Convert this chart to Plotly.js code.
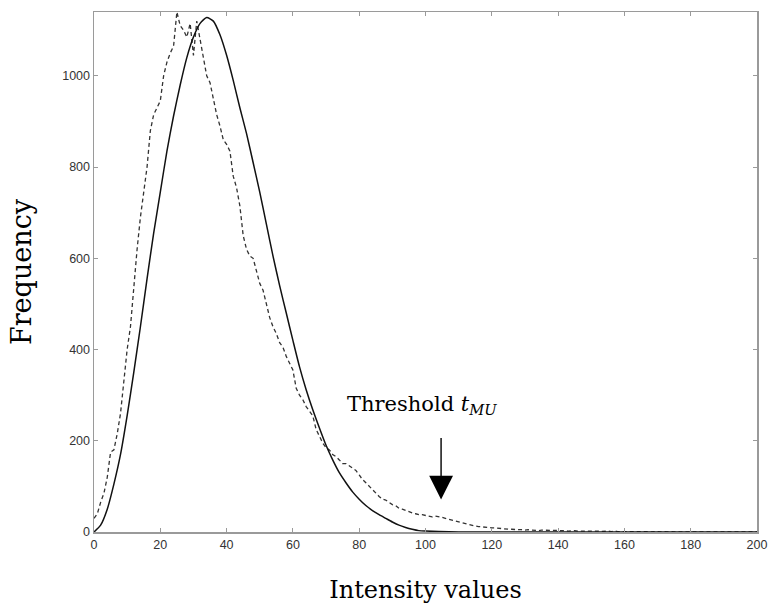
<!DOCTYPE html>
<html>
<head>
<meta charset="utf-8">
<script src="https://cdn.plot.ly/plotly-3.0.1.min.js"></script>
<style>html,body{margin:0;padding:0;background:#fff;}#chart{width:768px;height:611px;}</style>
</head>
<body>
<div id="chart"></div>
<script>
// Fitted model curve (solid), sampled every 2 intensity units
var fitX = [0,2,4,6,8,10,12,14,16,18,20,22,24,26,28,30,32,34,36,38,40,42,44,46,48,50,52,54,56,58,60,62,64,66,68,70,72,74,76,78,80,82,84,86,88,90,92,94,96,98,100,104,110,120,140,160,180,200];
var fitY = [0,15,50,105,170,255,350,450,555,655,745,835,912,980,1040,1085,1115,1128,1120,1090,1045,990,930,874,810,745,675,605,540,480,420,362,312,268,228,190,158,130,108,88,72,58,47,38,30,22,15,10,6,3,2,1,0,0,0,0,0,0];

// Observed histogram (dashed), one value per intensity 0..200
var histY = [
 30,40,65,85,120,175,180,215,260,330,
 400,450,540,620,690,740,800,880,915,930,
 945,1000,1030,1050,1065,1140,1110,1100,1085,1115,
 1045,1120,1075,1040,1000,985,950,915,890,860,
 850,835,780,755,715,650,620,605,600,575,
 545,530,500,470,450,435,415,405,385,370,
 355,315,300,290,275,265,255,225,210,195,
 185,180,170,165,158,150,150,145,140,135,
 125,115,108,100,92,85,78,72,70,65,
 60,58,52,50,47,45,42,40,38,38,
 36,35,33,35,34,32,30,28,26,24,
 22,20,18,16,15,13,12,11,10,10,
 9,9,8,7,7,6,6,5,5,5,
 4,5,4,4,3,4,4,3,3,4,
 3,3,3,2,3,3,2,2,3,2,
 2,2,2,1,2,2,1,2,1,1,
 2,1,1,1,1,1,1,1,0,1,
 1,0,1,0,1,0,0,1,0,0,
 0,1,0,0,0,0,0,0,0,0,
 0,0,0,0,0,0,0,0,0,0,
 0
];
var histX = histY.map(function(_, i){ return i; });

var xTicks = [0,20,40,60,80,100,120,140,160,180,200];
var yTicks = [0,200,400,600,800,1000];

var traces = [
  {x: histX, y: histY, type: 'scatter', mode: 'lines',
   line: {color: '#333', width: 1.3, dash: '4px,3px'}, hoverinfo: 'none'},
  {x: fitX, y: fitY, type: 'scatter', mode: 'lines',
   line: {color: '#111', width: 1.5, shape: 'spline', smoothing: 0.6}, hoverinfo: 'none'}
];

var axisCommon = {
  showgrid: false, zeroline: false, showline: true, mirror: 'ticks',
  linecolor: '#9a9a9a', linewidth: 1.5,
  ticks: 'inside', ticklen: 4, tickcolor: '#9a9a9a', tickwidth: 1,
  tickfont: {family: 'Liberation Sans, Arial, sans-serif', size: 12.5, color: '#333'}
};

var layout = {
  width: 768, height: 611,
  margin: {l: 94, r: 11, t: 12, b: 79},
  paper_bgcolor: '#fff', plot_bgcolor: '#fff',
  showlegend: false,
  xaxis: Object.assign({}, axisCommon, {
    range: [0, 200], tickmode: 'array', tickvals: xTicks, ticktext: xTicks.map(String),
    title: {text: 'Intensity values', standoff: 30,
            font: {family: 'DejaVu Serif, serif', size: 24, color: '#000'}}
  }),
  yaxis: Object.assign({}, axisCommon, {
    range: [0, 1140], tickmode: 'array', tickvals: yTicks, ticktext: yTicks.map(String),
    title: {text: 'Frequency', standoff: 22,
            font: {family: 'DejaVu Serif, serif', size: 27, color: '#000'}}
  }),
  annotations: [
    {x: 99, y: 279, xref: 'x', yref: 'y', showarrow: false,
     text: 'Threshold <i>t</i><sub><i>MU</i></sub>',
     font: {family: 'DejaVu Serif, serif', size: 21, color: '#000'}},
    {x: 104.7, y: 71, xref: 'x', yref: 'y', showarrow: true, text: '',
     ax: 0, ay: -63, arrowhead: 2, arrowsize: 3.4, arrowwidth: 1.4, arrowcolor: '#000'}
  ]
};

Plotly.newPlot('chart', traces, layout, {staticPlot: true, displayModeBar: false});
</script>
</body>
</html>
